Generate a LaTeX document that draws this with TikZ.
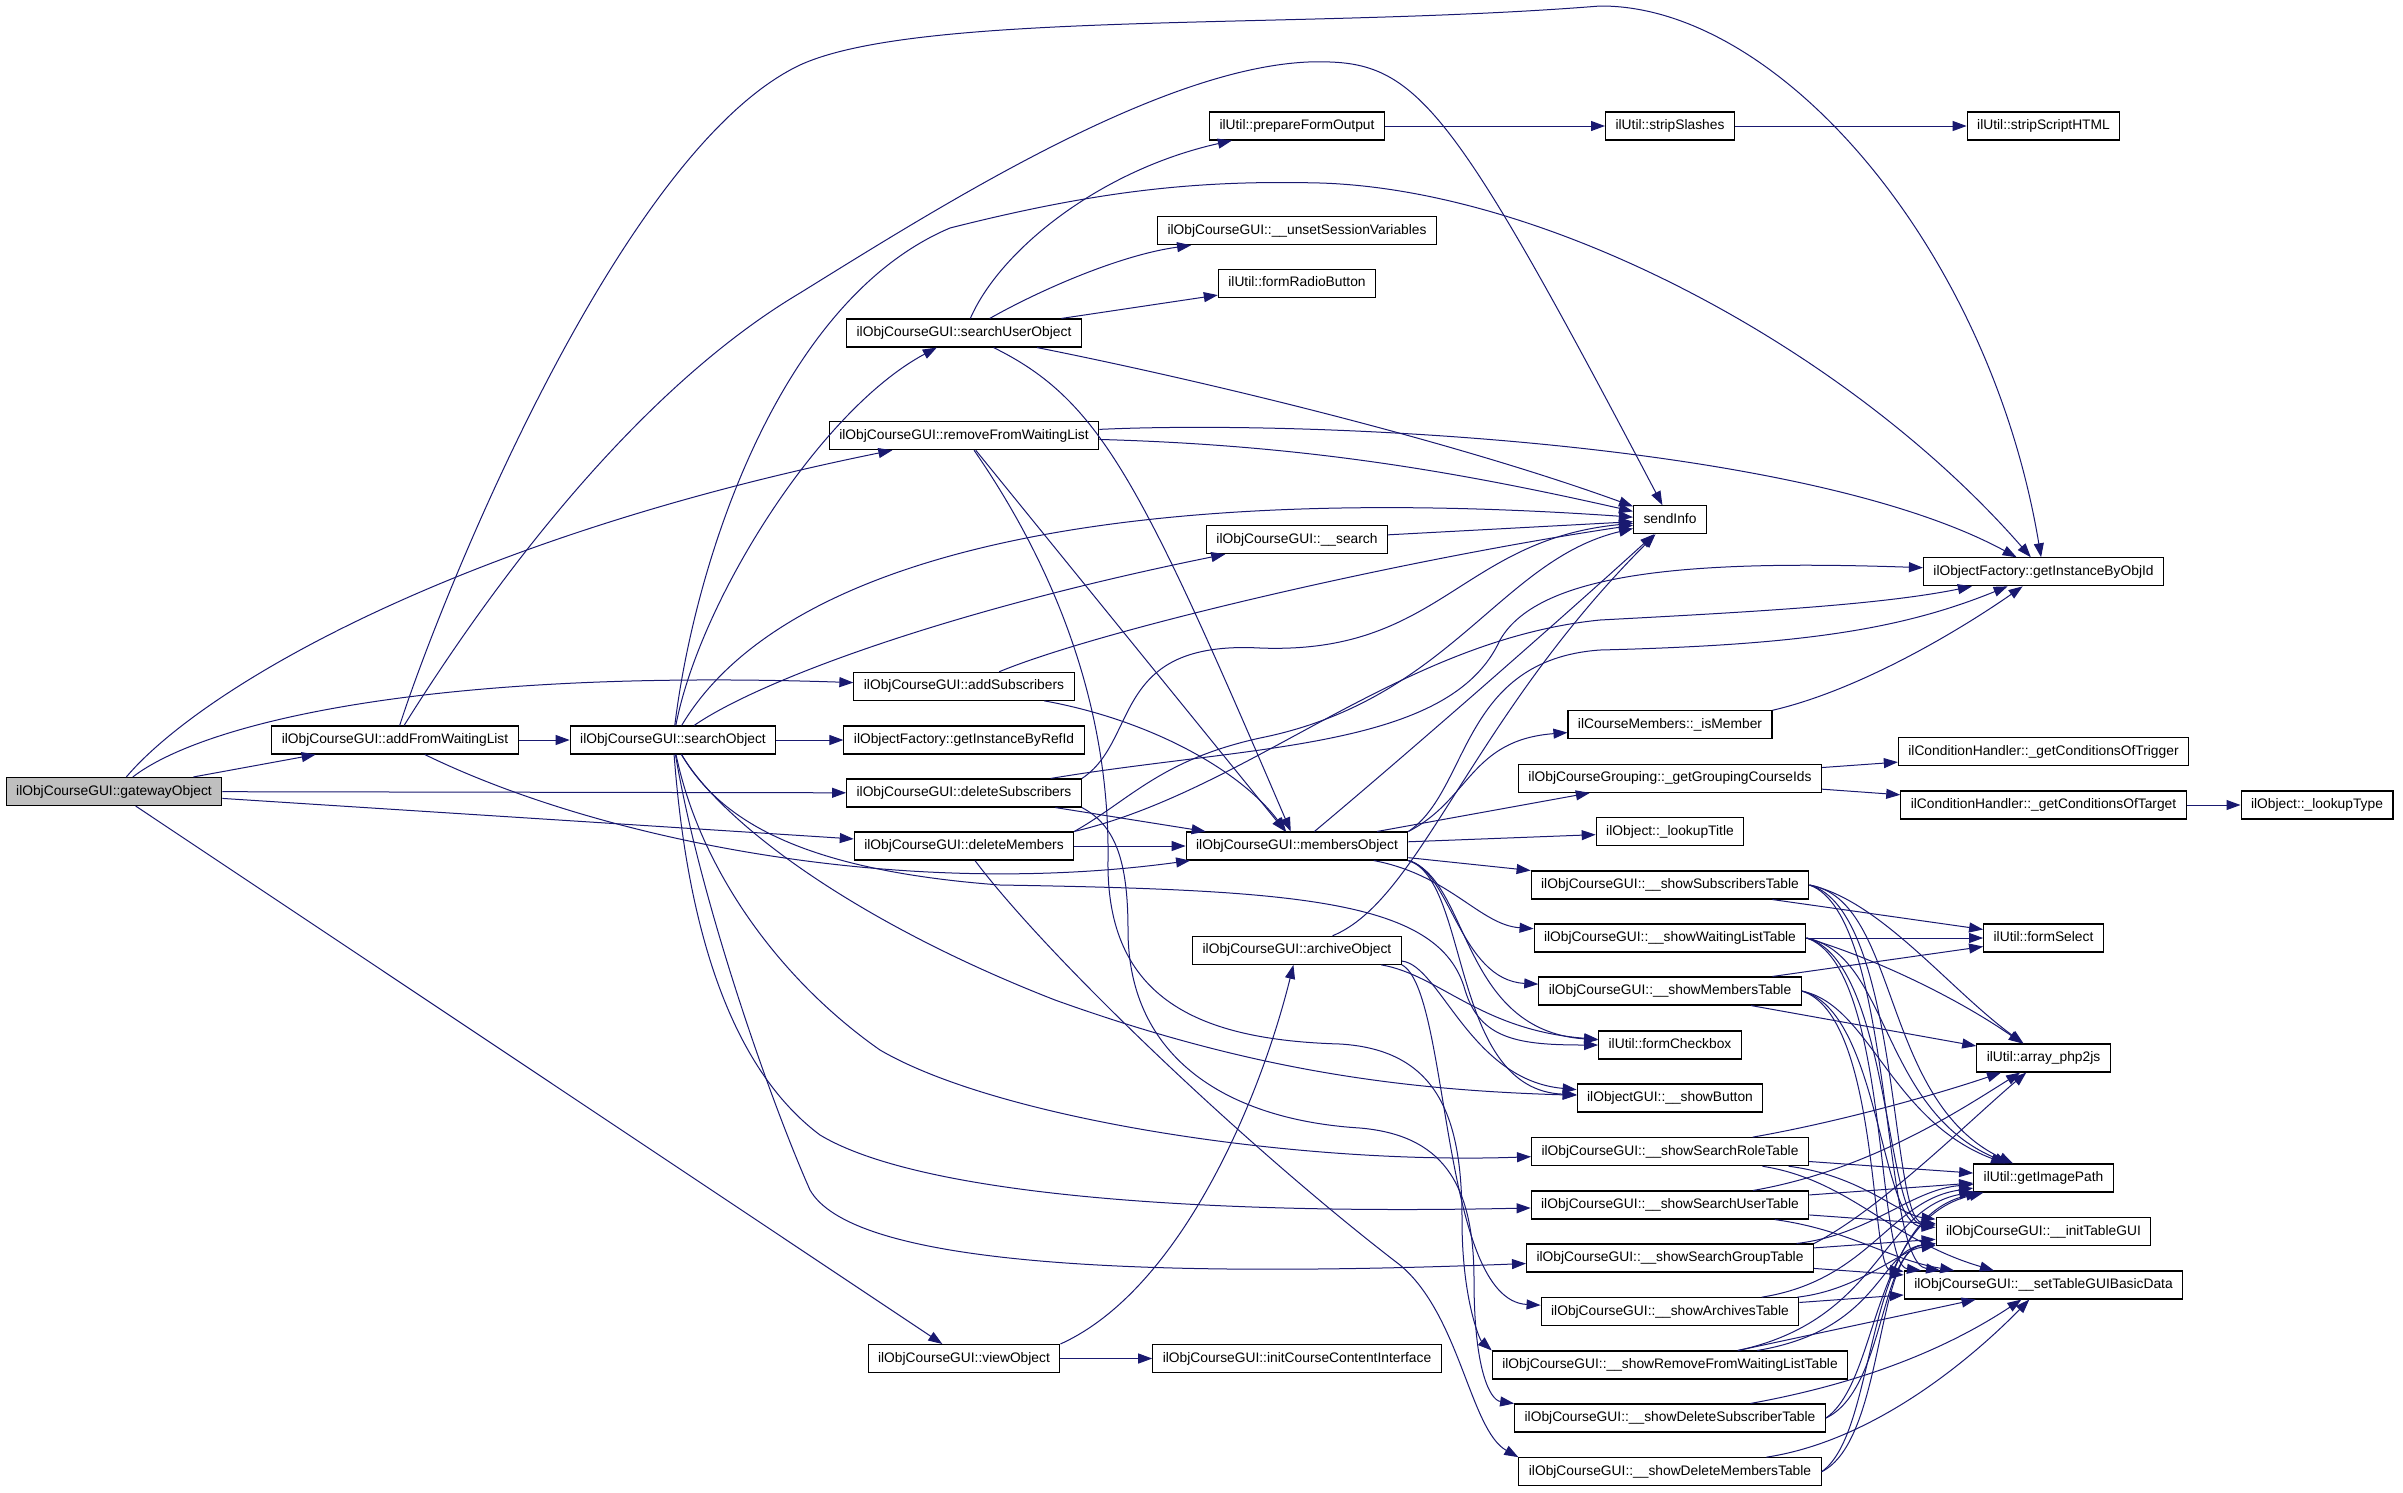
\documentclass[tikz,border=0pt]{standalone}
\usepackage{fontspec}
\setmainfont{Liberation Sans}
\usetikzlibrary{arrows.meta}
\definecolor{edgeblue}{HTML}{191970}
\definecolor{rootgrey}{HTML}{BFBFBF}
\begin{document}
\begin{tikzpicture}[x=1pt,y=-1pt,
  fn/.style={draw=black, line width=1.1pt, fill=white, inner xsep=10pt, inner ysep=0pt,
    minimum height=28pt, text height=10pt, text depth=3pt, font=\fontsize{13.8}{16}\selectfont},
  fnroot/.style={fn, fill=rootgrey},
  ln/.style={draw=edgeblue, line width=1pt, -{Triangle[length=14pt,width=10pt]}}]
\fill[white] (0,0) rectangle (2403,1492);
\useasboundingbox (0,0) rectangle (2403,1492);

% ---------- nodes ----------
\node[fnroot] (G) at (114,791.5) {ilObjCourseGUI::gatewayObject};
\node[fn] (AFW) at (395,740) {ilObjCourseGUI::addFromWaitingList};
\node[fn] (SO) at (673,740) {ilObjCourseGUI::searchObject};
\node[fn] (SUO) at (964,333) {ilObjCourseGUI::searchUserObject};
\node[fn] (RFW) at (964,435.7) {ilObjCourseGUI::removeFromWaitingList};
\node[fn] (AS) at (964,686.3) {ilObjCourseGUI::addSubscribers};
\node[fn] (GRI) at (964,740) {ilObjectFactory::getInstanceByRefId};
\node[fn] (DS) at (964,793) {ilObjCourseGUI::deleteSubscribers};
\node[fn] (DM) at (964,846) {ilObjCourseGUI::deleteMembers};
\node[fn] (VO) at (964,1358.5) {ilObjCourseGUI::viewObject};
\node[fn] (PFO) at (1297,126) {ilUtil::prepareFormOutput};
\node[fn] (USV) at (1297,230.7) {ilObjCourseGUI::\_\_unsetSessionVariables};
\node[fn] (FRB) at (1297,283.3) {ilUtil::formRadioButton};
\node[fn] (SRCH) at (1297,539.7) {ilObjCourseGUI::\_\_search};
\node[fn] (MO) at (1297,846) {ilObjCourseGUI::membersObject};
\node[fn] (AO) at (1297,950.3) {ilObjCourseGUI::archiveObject};
\node[fn] (ICCI) at (1297,1358.5) {ilObjCourseGUI::initCourseContentInterface};
\node[fn] (SS) at (1670,126) {ilUtil::stripSlashes};
\node[fn] (SI) at (1670,519.7) {sendInfo};
\node[fn] (ISM) at (1670,724.8) {ilCourseMembers::\_isMember};
\node[fn] (GCI) at (1670,778.3) {ilObjCourseGrouping::\_getGroupingCourseIds};
\node[fn] (LT) at (1670,831.8) {ilObject::\_lookupTitle};
\node[fn] (SST) at (1670,885) {ilObjCourseGUI::\_\_showSubscribersTable};
\node[fn] (SWT) at (1670,938) {ilObjCourseGUI::\_\_showWaitingListTable};
\node[fn] (SMT) at (1670,991) {ilObjCourseGUI::\_\_showMembersTable};
\node[fn] (FC) at (1670,1045) {ilUtil::formCheckbox};
\node[fn] (SB) at (1670,1098) {ilObjectGUI::\_\_showButton};
\node[fn] (SRT) at (1670,1151.7) {ilObjCourseGUI::\_\_showSearchRoleTable};
\node[fn] (SUT) at (1670,1205) {ilObjCourseGUI::\_\_showSearchUserTable};
\node[fn] (SGT) at (1670,1258) {ilObjCourseGUI::\_\_showSearchGroupTable};
\node[fn] (SAT) at (1670,1311.7) {ilObjCourseGUI::\_\_showArchivesTable};
\node[fn] (SRFT) at (1670,1365) {ilObjCourseGUI::\_\_showRemoveFromWaitingListTable};
\node[fn] (SDST) at (1670,1418) {ilObjCourseGUI::\_\_showDeleteSubscriberTable};
\node[fn] (SDMT) at (1670,1471.7) {ilObjCourseGUI::\_\_showDeleteMembersTable};
\node[fn] (SSH) at (2043.5,126) {ilUtil::stripScriptHTML};
\node[fn] (GOI) at (2043.5,571.8) {ilObjectFactory::getInstanceByObjId};
\node[fn] (CTR) at (2043.5,751.8) {ilConditionHandler::\_getConditionsOfTrigger};
\node[fn] (CTA) at (2043.5,805) {ilConditionHandler::\_getConditionsOfTarget};
\node[fn] (LTY) at (2317,805) {ilObject::\_lookupType};
\node[fn] (FS) at (2043.5,938) {ilUtil::formSelect};
\node[fn] (AP) at (2043.5,1058) {ilUtil::array\_php2js};
\node[fn] (GIP) at (2043.5,1178) {ilUtil::getImagePath};
\node[fn] (ITG) at (2043.5,1231.7) {ilObjCourseGUI::\_\_initTableGUI};
\node[fn] (STG) at (2043.5,1285) {ilObjCourseGUI::\_\_setTableGUIBasicData};

% ---------- gatewayObject ----------
\draw[ln] (G) -- (AFW);
\draw[ln] (G) .. controls (200,690) and (450,540) .. (RFW);
\draw[ln] (G) .. controls (200,725) and (420,668) .. (AS);
\draw[ln] (G) -- (DS);
\draw[ln] (G) -- (DM);
\draw[ln] (G) -- (VO);

% ---------- addFromWaitingList ----------
\draw[ln] (AFW) -- (SO);
\draw[ln] (AFW) .. controls (440,600) and (620,150) .. (800,65) .. controls (920,10) and (1300,30) .. (1600,6) .. controls (1780,5) and (1990,250) .. (GOI);
\draw[ln] (AFW) .. controls (470,620) and (620,400) .. (800,293) .. controls (950,200) and (1180,55) .. (1330,62) .. controls (1420,65) and (1460,120) .. (SI);
\draw[ln] (AFW) .. controls (600,840) and (900,900) .. (MO);

% ---------- searchObject ----------
\draw[ln] (SO) -- (GRI);
\draw[ln] (SO) .. controls (700,600) and (820,410) .. (SUO);
\draw[ln] (SO) .. controls (760,680) and (950,610) .. (SRCH);
\draw[ln] (SO) .. controls (780,560) and (1100,480) .. (SI);
\draw[ln] (SO) .. controls (695,560) and (780,300) .. (950,228) .. controls (1100,190) and (1200,180) .. (1320,183) .. controls (1550,190) and (1850,350) .. (GOI);
\draw[ln] (SO) .. controls (700,870) and (780,980) .. (880,1050) .. controls (1000,1120) and (1300,1165) .. (SRT);
\draw[ln] (SO) .. controls (685,900) and (720,1060) .. (820,1135) .. controls (920,1195) and (1200,1215) .. (SUT);
\draw[ln] (SO) .. controls (700,900) and (770,1100) .. (810,1190) .. controls (850,1260) and (1100,1280) .. (SGT);
\draw[ln] (SO) .. controls (720,820) and (800,870) .. (1000,885) .. controls (1300,890) and (1440,900) .. (1465,990) .. controls (1480,1040) and (1520,1045) .. (FC);
\draw[ln] (SO) .. controls (720,820) and (850,920) .. (1055,1000) .. controls (1250,1070) and (1400,1090) .. (SB);

% ---------- searchUserObject ----------
\draw[ln] (SUO) .. controls (1000,250) and (1100,170) .. (PFO);
\draw[ln] (SUO) .. controls (1040,290) and (1120,255) .. (USV);
\draw[ln] (SUO) -- (FRB);
\draw[ln] (SUO) .. controls (1200,380) and (1450,440) .. (SI);
\draw[ln] (SUO) .. controls (1100,400) and (1140,480) .. (MO);

% ---------- removeFromWaitingList ----------
\draw[ln] (RFW) .. controls (1300,420) and (1800,440) .. (GOI);
\draw[ln] (RFW) .. controls (1300,445) and (1450,470) .. (SI);
\draw[ln] (RFW) -- (MO);
\draw[ln] (RFW) .. controls (1050,560) and (1110,700) .. (1108,860) .. controls (1106,1000) and (1200,1040) .. (1340,1044) .. controls (1440,1050) and (1462,1120) .. (1462,1220) .. controls (1462,1300) and (1480,1340) .. (SRFT.north west);

% ---------- addSubscribers ----------
\draw[ln] (AS) .. controls (1100,630) and (1400,560) .. (SI);
\draw[ln] (AS) .. controls (1150,720) and (1240,770) .. (MO);

% ---------- deleteSubscribers ----------
\draw[ln] (DS) -- (MO);
\draw[ln] (DS) .. controls (1250,745) and (1450,750) .. (1500,640) .. controls (1540,570) and (1700,560) .. (GOI);
\draw[ln] (DS.north east) .. controls (1140,740) and (1110,640) .. (1260,648) .. controls (1440,655) and (1460,540) .. (SI);
\draw[ln] (DS.south east) .. controls (1115,825) and (1128,860) .. (1128,930) .. controls (1128,1060) and (1230,1120) .. (1360,1128) .. controls (1440,1135) and (1474,1180) .. (1474,1280) .. controls (1474,1370) and (1490,1400) .. (SDST.north west);

% ---------- deleteMembers ----------
\draw[ln] (DM) -- (MO);
\draw[ln] (DM.north east) .. controls (1130,800) and (1160,760) .. (1260,738) .. controls (1450,700) and (1500,560) .. (SI);
\draw[ln] (DM.north east) .. controls (1250,790) and (1400,640) .. (1600,620) .. controls (1750,612) and (1880,605) .. (GOI);
\draw[ln] (DM) .. controls (1050,960) and (1250,1150) .. (1400,1265) .. controls (1460,1315) and (1470,1430) .. (SDMT.north west);

% ---------- viewObject ----------
\draw[ln] (VO) -- (ICCI);
\draw[ln] (VO.north east) .. controls (1180,1290) and (1260,1100) .. (AO);

% ---------- column 3 ----------
\draw[ln] (PFO) -- (SS);
\draw[ln] (SS) -- (SSH);
\draw[ln] (SRCH) -- (SI);

\draw[ln] (MO) .. controls (1400,760) and (1560,620) .. (SI);
\draw[ln] (MO.north east) .. controls (1470,790) and (1460,660) .. (1600,650) .. controls (1800,645) and (1900,630) .. (GOI);
\draw[ln] (MO.north east) .. controls (1470,800) and (1470,740) .. (ISM);
\draw[ln] (MO) -- (GCI);
\draw[ln] (MO) -- (LT);
\draw[ln] (MO) -- (SST);
\draw[ln] (MO) .. controls (1450,875) and (1480,925) .. (SWT);
\draw[ln] (MO.south east) .. controls (1450,870) and (1460,980) .. (SMT);
\draw[ln] (MO.south east) .. controls (1470,880) and (1460,1030) .. (FC);
\draw[ln] (MO.south east) .. controls (1470,880) and (1450,1090) .. (SB);

\draw[ln] (AO) .. controls (1420,900) and (1470,720) .. (SI);
\draw[ln] (AO) .. controls (1440,975) and (1480,1030) .. (FC);
\draw[ln] (AO) .. controls (1440,965) and (1470,1080) .. (SB);
\draw[ln] (AO.south east) .. controls (1450,990) and (1440,1300) .. (SAT);

% ---------- column 4 ----------
\draw[ln] (ISM.north east) .. controls (1860,690) and (1960,630) .. (GOI);
\draw[ln] (GCI) -- (CTR);
\draw[ln] (GCI) -- (CTA);
\draw[ln] (CTA) -- (LTY);

\draw[ln] (SST) -- (FS);
\draw[ln] (SWT) -- (FS);
\draw[ln] (SMT) -- (FS);

\draw[ln] (SST.east) .. controls (1880,900) and (1950,990) .. (AP);
\draw[ln] (SWT.east) .. controls (1880,960) and (1960,1000) .. (AP);
\draw[ln] (SMT) -- (AP);
\draw[ln] (SRT) .. controls (1850,1120) and (1950,1090) .. (AP);
\draw[ln] (SUT) .. controls (1870,1170) and (1960,1110) .. (AP);
\draw[ln] (SGT.north east) .. controls (1880,1210) and (1970,1120) .. (AP);

\draw[ln] (SST.east) .. controls (1900,900) and (1880,1100) .. (GIP);
\draw[ln] (SWT.east) .. controls (1890,955) and (1880,1110) .. (GIP);
\draw[ln] (SMT.east) .. controls (1870,1005) and (1890,1120) .. (GIP);
\draw[ln] (SRT) -- (GIP);
\draw[ln] (SUT) -- (GIP);
\draw[ln] (SGT) .. controls (1870,1235) and (1910,1190) .. (GIP);
\draw[ln] (SAT) .. controls (1870,1280) and (1890,1200) .. (GIP);
\draw[ln] (SRFT) .. controls (1880,1320) and (1880,1210) .. (GIP);
\draw[ln] (SDST.east) .. controls (1880,1380) and (1870,1220) .. (GIP);
\draw[ln] (SDMT.east) .. controls (1880,1430) and (1860,1220) .. (GIP);

\draw[ln] (SST.east) .. controls (1900,910) and (1890,1220) .. (ITG);
\draw[ln] (SWT.east) .. controls (1890,960) and (1885,1222) .. (ITG);
\draw[ln] (SMT.east) .. controls (1880,1010) and (1880,1225) .. (ITG);
\draw[ln] (SRT) .. controls (1860,1175) and (1900,1215) .. (ITG);
\draw[ln] (SUT) -- (ITG);
\draw[ln] (SGT) -- (ITG);
\draw[ln] (SAT) .. controls (1860,1290) and (1900,1250) .. (ITG);
\draw[ln] (SRFT) .. controls (1880,1330) and (1880,1250) .. (ITG);
\draw[ln] (SDST.east) .. controls (1885,1390) and (1880,1250) .. (ITG);
\draw[ln] (SDMT.east) .. controls (1885,1440) and (1875,1250) .. (ITG);

\draw[ln] (SST.east) .. controls (1895,915) and (1880,1262) .. (STG);
\draw[ln] (SWT.east) .. controls (1890,965) and (1875,1265) .. (STG);
\draw[ln] (SMT.east) .. controls (1880,1015) and (1870,1268) .. (STG);
\draw[ln] (SRT) .. controls (1850,1180) and (1890,1240) .. (STG);
\draw[ln] (SUT) .. controls (1850,1230) and (1890,1260) .. (STG);
\draw[ln] (SGT) -- (STG);
\draw[ln] (SAT) -- (STG);
\draw[ln] (SRFT) -- (STG);
\draw[ln] (SDST) .. controls (1880,1380) and (1960,1340) .. (STG);
\draw[ln] (SDMT) .. controls (1880,1440) and (1980,1350) .. (STG);
\end{tikzpicture}
\end{document}
